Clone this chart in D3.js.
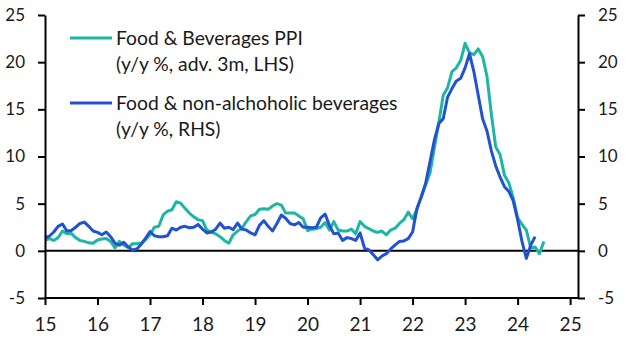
<!DOCTYPE html>
<html>
<head>
<meta charset="utf-8">
<script src="https://cdn.jsdelivr.net/npm/d3@7"></script>
<style>
  body { margin: 0; background: #ffffff; }
  text { font-family: Lato, "Open Sans", sans-serif; fill: #1a1a1a; }
</style>
</head>
<body>
<div id="chart"></div>
<script>
// monthly series, first value = Jan 2015
const startYear = 15;
const ppiValues = [
    1.1, 1.3, 1.1, 1.4, 2.1, 1.8, 1.85, 1.4, 1.1, 1.0, 0.85, 0.8,
    1.15, 1.25, 1.3, 1.0, 0.3, 1.0, 0.6, 0.35, 0.75, 0.75, 0.8, 1.2,
    1.7, 2.5, 2.6, 3.8, 4.2, 4.35, 5.2, 5.05, 4.5, 4.0, 3.6, 3.3,
    3.2, 2.2, 2.0, 1.8, 1.5, 1.1, 0.8, 1.7, 2.1, 2.4, 3.1, 3.7,
    3.85, 4.4, 4.45, 4.4, 4.75, 5.0, 4.85, 4.0, 4.0, 4.0, 3.7, 3.4,
    2.15, 2.3, 2.35, 2.5, 3.0, 2.2, 3.1, 2.2, 2.1, 2.1, 2.3, 1.8,
    3.1, 2.6, 2.35, 2.1, 1.95, 2.1, 1.7, 2.2, 2.4, 2.9, 3.3, 4.1,
    3.4, 4.4, 5.8, 7.0, 8.3, 11.0, 13.6, 16.5, 17.3, 19.0, 19.4, 20.2,
    22.0, 21.0, 20.8, 21.4, 20.6, 18.5, 14.5, 11.0, 10.2, 8.0, 7.2, 5.6,
    3.5, 2.8, 2.2, 0.3, 0.4, -0.3, 1.0
];
const cpiValues = [
    1.36, 1.55, 2.0, 2.6, 2.85, 2.1, 2.15, 2.5, 2.9, 3.05, 2.6, 2.1,
    1.95, 1.7, 2.0, 1.5, 0.8, 0.6, 0.9, 0.4, 0.1, 0.2, 0.7, 1.35,
    2.05, 1.6, 1.5, 1.5, 1.6, 2.4, 2.2, 2.5, 2.6, 2.45, 2.5, 2.8,
    2.3, 1.9, 2.0, 2.3, 2.95, 2.4, 2.5, 2.25, 2.95, 2.3, 2.2, 1.9,
    1.7, 2.7, 3.2, 2.6, 2.1, 2.9, 3.8, 3.45, 2.9, 2.75, 3.0, 2.5,
    2.5, 2.45, 2.5, 3.5, 3.9, 2.7, 1.8, 1.9, 1.1, 1.4, 1.3, 1.1,
    1.9, 0.3, 0.1, -0.4, -0.95, -0.55, -0.3, 0.2, 0.6, 1.0, 1.05, 1.3,
    2.0, 4.5, 5.7, 7.2, 9.5, 11.8, 13.5, 14.0, 16.3, 17.2, 18.0, 18.3,
    19.4, 20.9, 19.0, 16.5, 14.0, 12.7, 10.6, 9.0, 7.8, 6.8, 6.3, 5.3,
    3.3, 1.0, -0.8, 0.6, 1.5
];
const yTicks = [-5, 0, 5, 10, 15, 20, 25];
const xTicks = [15, 16, 17, 18, 19, 20, 21, 22, 23, 24, 25];
const legendItems = [
    { lines: ["Food & Beverages PPI", "(y/y %, adv. 3m, LHS)"], color: "#1db5a4", values: ppiValues },
    { lines: ["Food & non-alchoholic beverages", "(y/y %, RHS)"], color: "#2352d0", values: cpiValues }
];

const width = 629, height = 351;

const svg = d3.select("#chart")
    .append("svg")
    .attr("width", width)
    .attr("height", height);

const x = d3.scaleLinear().domain([15, 25.15]).range([45, 578]);
const y = d3.scaleLinear().domain([-5, 25]).range([298, 15]);

// zero line
svg.append("line")
    .attr("x1", x(15)).attr("x2", x(25.15))
    .attr("y1", y(0)).attr("y2", y(0))
    .attr("stroke", "#000").attr("stroke-width", 2);

// series
let line = d3.line()
    .x((d, i) => x(startYear + i / 12))
    .y(d => y(d));

legendItems.forEach(function(s) {
    svg.append("path")
        .datum(s.values)
        .attr("d", line)
        .attr("fill", "none")
        .attr("stroke", s.color)
        .attr("stroke-width", 3)
        .attr("stroke-linejoin", "round");
});

// axes
function styleAxis(g, size) {
    g.selectAll("path, line").attr("stroke", "#000").attr("stroke-width", 2);
    g.selectAll("text").attr("fill", "#1a1a1a").style("font-size", size + "px");
}
const plain = d => String(d);

svg.append("g")
    .attr("transform", `translate(${x(15)},0)`)
    .call(d3.axisLeft(y).tickValues(yTicks).tickFormat(plain).tickSize(7).tickSizeOuter(0).tickPadding(13))
    .call(g => styleAxis(g, 17));

svg.append("g")
    .attr("transform", `translate(${x(25.15)},0)`)
    .call(d3.axisRight(y).tickValues(yTicks).tickFormat(plain).tickSize(7).tickSizeOuter(0).tickPadding(13))
    .call(g => styleAxis(g, 17));

svg.append("g")
    .attr("transform", `translate(0,${y(-5)})`)
    .call(d3.axisBottom(x).tickValues(xTicks).tickFormat(plain).tickSize(7).tickSizeOuter(0).tickPadding(13))
    .call(g => styleAxis(g, 19))
    .call(g => g.select(".domain").attr("d", `M${x(15)},0H${x(25.15)}`));

// legend
const legendY = [38, 103];
legendItems.forEach(function(s, k) {
    let g = svg.append("g").attr("transform", `translate(0,${legendY[k]})`);
    g.append("line")
        .attr("x1", 70).attr("x2", 112)
        .attr("stroke", s.color).attr("stroke-width", 3);
    s.lines.forEach(function(t, j) {
        g.append("text")
            .attr("x", 116)
            .attr("y", 7 + j * 25.5)
            .style("font-size", "19.3px")
            .text(t);
    });
});
</script>
</body>
</html>
